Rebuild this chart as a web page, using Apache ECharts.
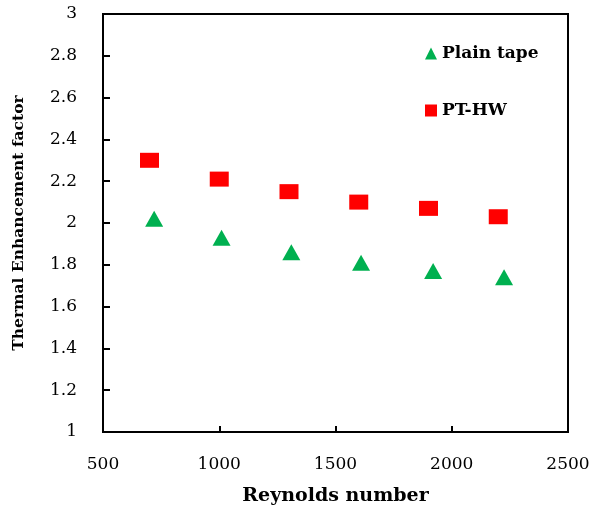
<!DOCTYPE html>
<html>
<head>
<meta charset="utf-8">
<script src="https://cdn.jsdelivr.net/npm/echarts@6/dist/echarts.min.js"></script>
<style>
  html, body { margin: 0; padding: 0; background: #fff; }
  #chart { width: 595px; height: 505px; }
</style>
</head>
<body>
<div id="chart"></div>
<script>
// 数据
const plainRe = [720, 1010, 1310, 1610, 1920, 2225]
const plainTef = [2.02, 1.93, 1.86, 1.81, 1.77, 1.74]
const hwRe = [700, 1000, 1300, 1600, 1900, 2200]
const hwTef = [2.30, 2.21, 2.15, 2.10, 2.07, 2.03]

const serif = 'DejaVu Serif'

const myChart = echarts.init(document.getElementById('chart'))
myChart.setOption({
  animation: false,
  grid: {
    left: 103,
    right: 27,
    top: 14,
    bottom: 73,
    outerBoundsMode: 'none',
    containLabel: false,
    show: true,
    borderColor: '#000',
    borderWidth: 2
  },
  legend: {
    orient: 'vertical',
    left: 420,
    top: 40,
    itemGap: 40,
    itemWidth: 12,
    itemHeight: 12,
    textStyle: { fontFamily: serif, fontWeight: 'bold', fontSize: 17, color: '#000' },
    data: ['Plain tape', 'PT-HW']
  },
  xAxis: {
    type: 'value',
    min: 500,
    max: 2500,
    interval: 500,
    name: 'Reynolds number',
    nameLocation: 'middle',
    nameGap: 55,
    nameTextStyle: { fontFamily: serif, fontWeight: 'bold', fontSize: 19, color: '#000' },
    splitLine: { show: false },
    axisLine: { lineStyle: { color: '#000', width: 2 } },
    axisTick: { inside: true, length: 6, lineStyle: { color: '#000', width: 2 } },
    axisLabel: {
      fontFamily: serif,
      fontSize: 17,
      color: '#000',
      margin: 24,
      formatter: function (v) {
        return String(v)
      }
    }
  },
  yAxis: {
    type: 'value',
    min: 1,
    max: 3,
    interval: 0.2,
    name: 'Thermal Enhancement factor',
    nameLocation: 'middle',
    nameGap: 76,
    nameTextStyle: { fontFamily: serif, fontWeight: 'bold', fontSize: 15.5, color: '#000' },
    splitLine: { show: false },
    axisLine: { lineStyle: { color: '#000', width: 2 } },
    axisTick: { inside: true, length: 7, lineStyle: { color: '#000', width: 2 } },
    axisLabel: {
      fontFamily: serif,
      fontSize: 17,
      color: '#000',
      margin: 26,
      formatter: function (v) {
        return String(Math.round(v * 10) / 10)
      }
    }
  },
  series: [
    {
      name: 'Plain tape',
      type: 'scatter',
      symbol: 'triangle',
      symbolSize: [18, 16],
      itemStyle: { color: '#00B050', opacity: 1 },
      data: plainRe.map((x, i) => [x, plainTef[i]])
    },
    {
      name: 'PT-HW',
      type: 'scatter',
      symbol: 'rect',
      symbolSize: [19, 15],
      itemStyle: { color: '#FF0000', opacity: 1 },
      data: hwRe.map((x, i) => [x, hwTef[i]])
    }
  ]
})
</script>
</body>
</html>
